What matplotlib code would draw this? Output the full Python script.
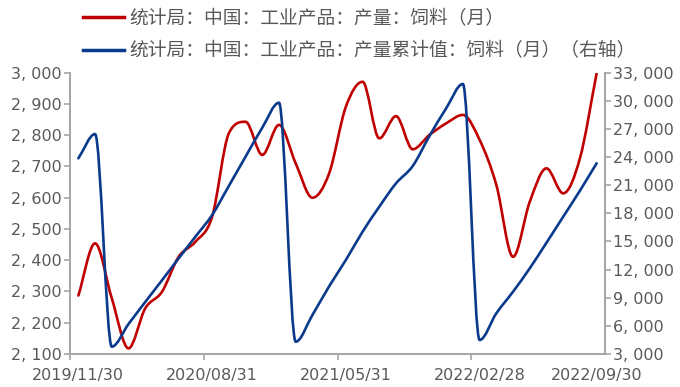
import numpy as np
import matplotlib
matplotlib.use("Agg")
import matplotlib.pyplot as plt
from matplotlib.path import Path
from matplotlib.patches import PathPatch
from matplotlib.lines import Line2D

plt.rcParams['font.family'] = ['Noto Sans CJK SC', 'DejaVu Sans']

# 月份（国家统计局没有单独的1月数据）
months = ['2019/11/30', '2019/12/31', '2020/02/29', '2020/03/31', '2020/04/30', '2020/05/31',
          '2020/06/30', '2020/07/31', '2020/08/31', '2020/09/30', '2020/10/31', '2020/11/30',
          '2020/12/31', '2021/02/28', '2021/03/31', '2021/04/30', '2021/05/31', '2021/06/30',
          '2021/07/31', '2021/08/31', '2021/09/30', '2021/10/31', '2021/11/30', '2021/12/31',
          '2022/02/28', '2022/03/31', '2022/04/30', '2022/05/31', '2022/06/30', '2022/07/31',
          '2022/08/31', '2022/09/30']

# 产量：饲料（月）
output = [2287, 2454, 2278, 2118, 2246, 2299, 2411, 2459, 2539, 2806, 2843, 2737,
          2833, 2710, 2600, 2678, 2891, 2971, 2790, 2861, 2755, 2801, 2838, 2865,
          2785, 2641, 2411, 2587, 2694, 2614, 2726, 2998]

# 产量累计值：饲料（月）
cumulative = [23870, 26460, 3780, 6200, 8545, 10860, 13200, 15510, 17820, 20920, 24040, 27130,
              29800, 4310, 7160, 10220, 13025, 16040, 18710, 21200, 23050, 26250, 29200, 31800,
              4490, 7340, 9645, 12140, 14870, 17640, 20420, 23340]

label_red = '统计局：中国：工业产品：产量：饲料（月）'
label_blue = '统计局：中国：工业产品：产量累计值：饲料（月）（右轴）'

red = '#C00000'
blue = '#0A3A8C'
grey = '#595959'
spine_c = '#A6A6A6'


def smooth_path(x, y):
    # 平滑折线：单调三次Hermite曲线转成贝塞尔路径
    x = np.asarray(x, float)
    y = np.asarray(y, float)
    d = np.diff(y) / np.diff(x)
    m = np.zeros_like(y)
    m[0], m[-1] = d[0], d[-1]
    for i in range(1, len(y) - 1):
        if d[i - 1] * d[i] > 0:
            m[i] = (d[i - 1] + d[i]) / 2
            lim = 3 * min(abs(d[i - 1]), abs(d[i]))
            m[i] = np.sign(m[i]) * min(abs(m[i]), lim)
    verts = [(x[0], y[0])]
    codes = [Path.MOVETO]
    for i in range(len(x) - 1):
        h = x[i + 1] - x[i]
        verts += [(x[i] + h / 3, y[i] + m[i] * h / 3),
                  (x[i + 1] - h / 3, y[i + 1] - m[i + 1] * h / 3),
                  (x[i + 1], y[i + 1])]
        codes += [Path.CURVE4] * 3
    return Path(verts, codes)


fig = plt.figure(figsize=(6.8, 3.87), dpi=100)
ax = fig.add_axes([70 / 680, 1 - 354 / 387, 535 / 680, (354 - 72.7) / 387])
ax2 = ax.twinx()

xs = np.arange(len(months))
ax.add_patch(PathPatch(smooth_path(xs, output), fill=False, edgecolor=red, lw=1.9,
                       capstyle='round', joinstyle='round'))
ax2.add_patch(PathPatch(smooth_path(xs, cumulative), fill=False, edgecolor=blue, lw=1.9,
                        capstyle='round', joinstyle='round'))

ax.set_xlim(-0.5, len(months) - 0.5)
ax.set_ylim(2100, 3000)
ax2.set_ylim(3000, 33000)

left_ticks = np.arange(2100, 3001, 100)
right_ticks = np.arange(3000, 33001, 3000)
ax.set_yticks(left_ticks)
ax.set_yticklabels([f'{v:,}'.replace(',', ', ') for v in left_ticks])
ax2.set_yticks(right_ticks)
ax2.set_yticklabels([f'{v:,}'.replace(',', ', ') for v in right_ticks])

# 刻度线在类别之间，标签在类别中心
ax.set_xticks([-0.5, 7.5, 15.5, 23.5])
ax.set_xticklabels([])
lab_idx = [0, 8, 16, 24, 31]
ax.set_xticks(lab_idx, minor=True)
ax.set_xticklabels([months[i] for i in lab_idx], minor=True)

for a in (ax, ax2):
    for s in a.spines.values():
        s.set_color(spine_c)
        s.set_linewidth(1.3)
    a.spines['top'].set_visible(False)
    a.tick_params(which='both', colors=spine_c, labelcolor=grey, labelsize=11.5,
                  length=4, width=1.2)
    for t in a.get_yticklabels() + a.get_xticklabels(minor=True):
        t.set_family('DejaVu Sans')
ax.tick_params(axis='x', which='minor', length=0, pad=10)
ax.tick_params(axis='y', pad=2)
ax2.tick_params(axis='y', pad=2)

handles = [Line2D([], [], color=red, lw=2.5), Line2D([], [], color=blue, lw=2.5)]
fig.legend(handles, [label_red, label_blue], loc='upper left',
           bbox_to_anchor=(83 / 680, 1 - 8 / 387), frameon=False, fontsize=13.5,
           labelcolor=grey, handlelength=2.2, handletextpad=0.3,
           labelspacing=0.6, borderpad=0, borderaxespad=0)

fig.savefig('out.png', dpi=100)
